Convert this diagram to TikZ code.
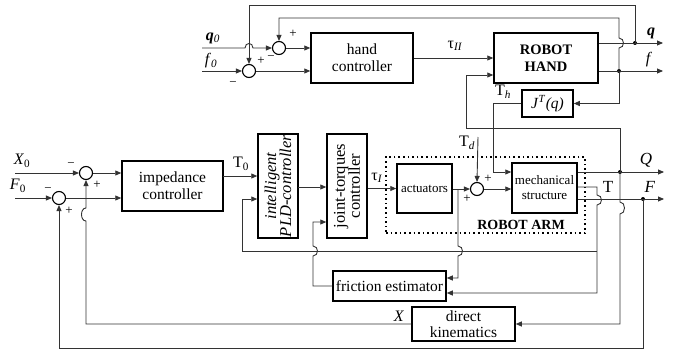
\documentclass[tikz,border=0pt]{standalone}
\usepackage{fontspec}
\setmainfont{Liberation Serif}
\usetikzlibrary{arrows.meta}
\begin{document}
\begin{tikzpicture}[x=1pt,y=-1pt,
  blk/.style={draw=black,line width=1.5pt,fill=white,inner sep=0pt,align=center,font=\fontsize{15.5}{17}\selectfont},
  rtxt/.style={rotate=90,align=center,inner sep=0pt},
  sumc/.style={draw=black,line width=1.1pt,circle,minimum size=13pt,inner sep=0pt},
  wire/.style={line width=0.9pt,draw=black!80},
  arr/.style={wire,-{Triangle[length=6pt,width=5pt]}},
  dot/.style={circle,fill=black,inner sep=0pt,minimum size=4pt},
  lbl/.style={font=\fontsize{16}{18}\selectfont,inner sep=0pt},
  sgn/.style={font=\fontsize{13}{13}\selectfont,inner sep=0pt}
]
\useasboundingbox (0,0) rectangle (675,353);

% dotted robot arm frame
\node[draw=black,line width=1.6pt,dash pattern=on 1.6pt off 3pt,minimum width=199pt,minimum height=76pt,inner sep=0pt] (arm) at (485.5,195) {};
\node[font=\bfseries\fontsize{14}{16}\selectfont,inner sep=0pt] (armlbl) at (521,225) {ROBOT ARM};

% blocks
\node[blk,minimum width=102pt,minimum height=50pt] (hand) at (362,58) {hand\\controller};
\node[blk,minimum width=104pt,minimum height=50pt,font=\bfseries\fontsize{14.5}{17}\selectfont] (rh) at (546,58) {ROBOT\\HAND};
\node[blk,minimum width=51pt,minimum height=27pt] (jt) at (547.5,103.5) {\textit{J}\textsuperscript{\textit{T}}\textit{(q)}};
\node[blk,minimum width=101pt,minimum height=50pt] (imp) at (172.5,186) {impedance\\controller};
\node[blk,minimum width=40pt,minimum height=104pt] (pld) at (278,186) {};
\node[rtxt,font=\itshape\fontsize{16.5}{15}\selectfont] (pldt) at (pld.center) {intelligent\\PLD-controller};
\node[blk,minimum width=40pt,minimum height=104pt] (jtc) at (347,186) {};
\node[rtxt,font=\fontsize{16.5}{15}\selectfont] (jtct) at (jtc.center) {joint-torques\\controller};
\node[blk,minimum width=55pt,minimum height=49pt,font=\fontsize{13}{15}\selectfont] (act) at (424.5,188.5) {actuators};
\node[blk,minimum width=65pt,minimum height=50pt,font=\fontsize{13}{15}\selectfont] (mech) at (544.5,188) {mechanical\\structure};
\node[blk,minimum width=113pt,minimum height=30pt] (fric) at (389.5,286) {friction estimator};
\node[blk,minimum width=103pt,minimum height=34pt,font=\fontsize{15.5}{16}\selectfont] (dk) at (463.5,324) {direct\\kinematics};

% summing junctions
\node[sumc] (sq) at (279,48) {};
\node[sumc] (sf) at (249,71) {};
\node[sumc] (sx) at (86,173) {};
\node[sumc] (sF) at (59,198) {};
\node[sumc] (sd) at (477,189) {};

% terminals and branch points
\coordinate (q0) at (202,48);
\coordinate (f0) at (202,71);
\coordinate (X0) at (15,173);
\coordinate (F0) at (15,198);
\coordinate (qout) at (663,43);
\coordinate (fout) at (663,71);
\coordinate (Qout) at (664,172);
\coordinate (Fout) at (664,199);
\coordinate (Td) at (478,137);
\node[dot] (dq) at (635,43) {};
\node[dot] (df) at (619,71) {};
\node[dot] (dQ) at (620,172) {};
\node[dot] (dF) at (643,199) {};
\coordinate (hin2) at (466,75);
\coordinate (t0) at (223,176);
\coordinate (p1) at (298,187);
\coordinate (br) at (458,189);
\coordinate (fr1) at (458,278);
\coordinate (tT) at (597,187);
\coordinate (jn) at (597,251);
\coordinate (fr2) at (597,293);
\coordinate (pin2) at (242,199);
\coordinate (jin2) at (313,222);
\coordinate (th) at (493,172);

% top section
\draw[arr] (q0) -- (245,48) .. controls (245,42) and (253,42) .. (253,48) -- (sq.west);
\draw[arr] (f0) -- (sf.west);
\draw[arr] (dq.center) -- (635,5) -- (249,5) -- (sf.north);
\draw[arr] (df.center) -- (619,48) .. controls (625,48) and (625,38) .. (619,38) -- (619,18) -- (279,18) -- (sq.north);
\draw[arr] (df.center) |- (jt.east);
\draw[arr] (sq.east) -- (sq.east -| hand.west);
\draw[arr] (sf.east) -- (sf.east -| hand.west);
\draw[arr] (hand.east) -- (rh.west);
\draw[arr] (dq -| rh.east) -- (qout);
\draw[wire] (df -| rh.east) -- (df.center);
\draw[arr] (df.center) -- (fout);
\draw[arr] (jt.west) -| (th) -- (th -| mech.west);
\draw[arr] (dQ.center) -- (620,128) -- (466,128) -- (hin2) -- (hin2 -| rh.west);

% main row
\draw[arr] (X0) -- (sx.west);
\draw[arr] (F0) -- (sF.west);
\draw[arr] (sx.east) -- (sx.east -| imp.west);
\draw[arr] (sF.east) -- (sF.east -| imp.west);
\draw[arr] (t0) -- (t0 -| pld.west);
\draw[arr] (p1) -- (p1 -| jtc.west);
\draw[arr] (jtc.east |- act.west) -- (act.west);
\draw[arr] (act.east |- sd.west) -- (sd.west);
\draw[arr] (sd.east) -- (sd.east -| mech.west);
\draw[arr] (Td) -- (sd.north);
\draw[wire] (dQ -| mech.east) -- (dQ.center);
\draw[arr] (dQ.center) -- (Qout);
\draw[wire] (dF -| mech.east) -- (dF.center);
\draw[arr] (dF.center) -- (Fout);

% lower loops
\draw[arr] (br) -- (458,246) .. controls (464,246) and (464,256) .. (458,256) -- (fr1) -- (fr1 -| fric.east);
\draw[arr] (tT -| mech.east) -- (tT) -- (597,195) .. controls (603,195) and (603,205) .. (597,205) -- (fr2) -- (fr2 -| fric.east);
\draw[arr] (jn) -- (242,251) -- (pin2) -- (pin2 -| pld.west);
\draw[arr] (fric.west) -- (313,286) -- (313,256) .. controls (319,256) and (319,246) .. (313,246) -- (jin2) -- (jin2 -| jtc.west);
\draw[arr] (dQ.center) -- (620,202) .. controls (626,202) and (626,214) .. (620,214) -- (620,324) -- (dk.east);
\draw[arr] (dF.center) -- (643,348) -- (59,348) -- (sF.south);
\draw[arr] (dk.west) -- (86,324) -- (86,221) .. controls (80,221) and (80,208) .. (86,208) -- (sx.south);

% labels
\node[lbl] (lq0) at (213,38) {\textbf{\textit{q}}\textsubscript{\textit{0}}};
\node[lbl] (lf0) at (211,61) {\textit{f}\textsubscript{\textit{0}}};
\node[lbl] (ltII) at (455,46) {τ\textsubscript{\textit{II}}};
\node[lbl] (lq) at (651,33) {\textbf{\textit{q}}};
\node[lbl] (lf) at (649,60) {\textit{f}};
\node[lbl] (lTh) at (503,92) {T\textsubscript{\textit{h}}};
\node[lbl] (lTd) at (467,143) {T\textsubscript{\textit{d}}};
\node[lbl] (lT0) at (241,164) {T\textsubscript{0}};
\node[lbl] (ltI) at (377,178) {τ\textsubscript{\textit{I}}};
\node[lbl,font=\fontsize{17}{18}\selectfont] (lQ) at (646,160) {\textit{Q}};
\node[lbl,font=\fontsize{17}{18}\selectfont] (lF) at (650,187) {\textit{F}};
\node[lbl,font=\fontsize{17}{18}\selectfont] (lT) at (608,187) {T};
\node[lbl] (lX) at (399,316) {\textit{X}};
\node[lbl] (lX0) at (22,161) {\textit{X}\textsubscript{0}};
\node[lbl] (lF0) at (18,186) {\textit{F}\textsubscript{0}};

% signs
\node[sgn] (s1) at (293,34) {+};
\node[sgn] (s2) at (271,58) {−};
\node[sgn] (s3) at (261,61) {+};
\node[sgn] (s4) at (233,84) {−};
\node[sgn] (s5) at (71,165) {−};
\node[sgn] (s6) at (97,185) {+};
\node[sgn] (s7) at (48,190) {−};
\node[sgn] (s8) at (69,211) {+};
\node[sgn] (s9) at (488,179) {+};
\node[sgn] (s10) at (467,199) {+};
\end{tikzpicture}
\end{document}
